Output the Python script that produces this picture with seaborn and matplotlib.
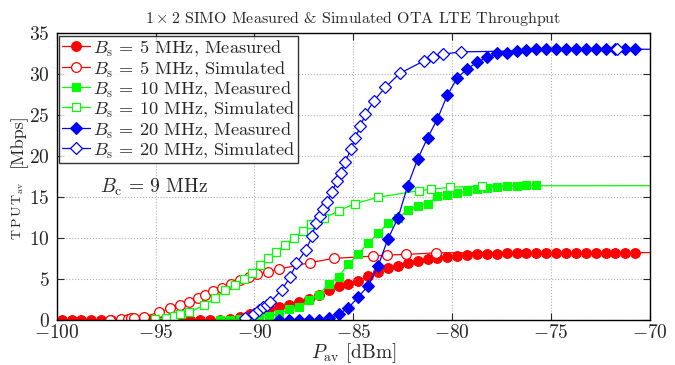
import matplotlib
matplotlib.use("Agg")
import matplotlib.pyplot as plt
import seaborn as sns
import pandas as pd

# measured curves (0.5 dBm steps)
x_meas_5 = [-99.75, -99.25, -98.75, -98.25, -97.75, -97.25, -96.75, -96.25, -95.75, -95.25,
            -94.75, -94.25, -93.75, -93.25, -92.75, -92.25, -91.75, -91.25, -90.75, -90.25,
            -89.75, -89.25, -88.75, -88.25, -87.75, -87.25, -86.75, -86.25, -85.75, -85.25,
            -84.75, -84.25, -83.75, -83.25, -82.75, -82.25, -81.75, -81.25, -80.75, -80.25,
            -79.75, -79.25, -78.75, -78.25, -77.75, -77.25, -76.75, -76.25, -75.75, -75.25,
            -74.75, -74.25, -73.75, -73.25, -72.75, -72.25, -71.75, -71.25, -70.75]
y_meas_5 = [0, 0, 0, 0, 0, 0, 0, 0, 0, 0,
            0, 0, 0, 0, 0, 0, 0.05, 0.15, 0.35, 0.7,
            0.95, 1.3, 1.6, 1.9, 2.2, 2.6, 3.1, 3.7, 4.1, 4.45,
            4.8, 5.35, 5.85, 6.3, 6.6, 6.9, 7.2, 7.4, 7.6, 7.73,
            7.8, 7.89, 8.0, 8.05, 8.1, 8.13, 8.15, 8.17, 8.18, 8.2,
            8.2, 8.2, 8.2, 8.2, 8.2, 8.2, 8.2, 8.2, 8.2]

x_meas_10 = [-91.75, -91.25, -90.75, -90.25, -89.75, -89.25, -88.75, -88.25, -87.75, -87.25,
             -86.75, -86.25, -85.75, -85.25, -84.75, -84.25, -83.75, -83.25, -82.75, -82.25,
             -81.75, -81.25, -80.75, -80.25, -79.75, -79.25, -78.75, -78.25, -77.75, -77.25,
             -76.75, -76.25, -75.75]
y_meas_10 = [0.05, 0.05, 0.08, 0.2, 0.33, 0.53, 0.8, 1.3, 1.6, 2.5,
             3.1, 4.4, 5.3, 6.8, 8.1, 9.35, 10.6, 11.8, 12.4, 13.4,
             13.9, 14.2, 15.1, 15.25, 15.45, 15.75, 15.95, 16.15, 16.2, 16.3,
             16.35, 16.42, 16.42]

x_meas_20 = [-88.75, -88.25, -87.75, -87.25, -86.75, -86.25, -85.75, -85.25, -84.75, -84.25,
             -83.75, -83.25, -82.75, -82.25, -81.75, -81.25, -80.75, -80.25, -79.75, -79.25,
             -78.75, -78.25, -77.75, -77.25, -76.75, -76.25, -75.75, -75.25, -74.75, -74.25,
             -73.75, -73.25, -72.75, -72.25, -71.75, -71.25, -70.75]
y_meas_20 = [0, 0, 0, 0, 0.05, 0.25, 0.7, 1.5, 2.8, 4.2,
             6.6, 9.9, 12.4, 16.4, 19.6, 22.2, 24.5, 27.4, 29.5, 30.6,
             31.4, 32.0, 32.5, 32.6, 32.8, 32.9, 33.0, 33.0, 33.0, 33.0,
             33.0, 33.0, 33.0, 33.0, 33.0, 33.0, 33.0]

# simulated curves
x_sim_5 = [-97.3, -96.75, -96.4, -96.25, -96.1, -95.6, -94.85, -94.25, -93.75, -93.3,
           -92.85, -92.5, -92.1, -91.65, -91.2, -90.75, -90.3, -89.85, -89.3, -88.75,
           -87.2, -86.0, -84.0, -83.3, -82.35, -80.8, -60.0]
y_sim_5 = [0, 0.1, 0.15, 0.2, 0.2, 0.4, 0.93, 1.42, 1.83, 2.24,
           2.64, 3.1, 3.58, 3.86, 4.39, 4.88, 5.2, 5.57, 5.9, 6.22,
           7.0, 7.52, 7.8, 7.93, 8.0, 8.2, 8.25]

x_sim_10 = [-95.05, -94.45, -94.05, -93.75, -93.3, -92.56, -92.0, -91.5, -91.0, -90.55,
            -90.15, -89.73, -89.31, -88.89, -88.47, -88.0, -87.55, -87.12, -86.5, -85.75,
            -84.93, -83.75, -81.7, -81.05, -80.12, -78.5, -60.0]
y_sim_10 = [0.08, 0.28, 0.49, 0.69, 0.93, 1.83, 2.64, 3.66, 4.27, 4.96,
            5.77, 6.7, 7.52, 8.33, 9.15, 9.96, 10.9, 11.65, 12.4, 13.3,
            14.2, 14.96, 15.77, 15.94, 16.18, 16.36, 16.4]

x_sim_20 = [-90.5, -90.04, -89.77, -89.56, -89.39, -89.19, -88.63, -88.21, -87.88, -87.4,
            -87.08, -86.9, -86.7, -86.53, -86.33, -86.06, -85.85, -85.65, -85.4, -85.13,
            -84.9, -84.65, -84.39, -83.95, -83.38, -82.65, -81.42, -80.96, -80.46, -79.58,
            -71.66, -60.0]
y_sim_20 = [0.25, 0.73, 1.22, 1.55, 1.83, 2.24, 3.66, 5.2, 6.91, 8.54,
            10.24, 11.8, 12.7, 13.5, 14.4, 15.65, 16.9, 17.9, 19.3, 20.8,
            22.2, 23.6, 25.1, 26.75, 28.37, 30.07, 31.6, 32.0, 32.4, 32.68,
            33.0, 33.0]

bandwidths = ['5', '10', '20']
colors = {'5': '#ff0000', '10': '#00ff00', '20': '#0000ff'}
markers = {'5': 'o', '10': 's', '20': 'D'}
msizes = {'5': 7, '10': 6, '20': 6.5}

measured = {'5': (x_meas_5, y_meas_5), '10': (x_meas_10, y_meas_10), '20': (x_meas_20, y_meas_20)}
simulated = {'5': (x_sim_5, y_sim_5), '10': (x_sim_10, y_sim_10), '20': (x_sim_20, y_sim_20)}

sns.set_style('ticks')
plt.rcParams['font.family'] = 'serif'
plt.rcParams['font.serif'] = ['cmr10', 'DejaVu Serif']
plt.rcParams['mathtext.fontset'] = 'cm'
plt.rcParams['axes.formatter.use_mathtext'] = True
plt.rcParams['axes.unicode_minus'] = True

fig = plt.figure(figsize=(6.75, 3.65), dpi=100)
ax = fig.add_axes([0.084, 0.123, 0.879, 0.787])

for bw in bandwidths:
    c = colors[bw]
    xm, ym = measured[bw]
    df_m = pd.DataFrame({'P': xm, 'T': ym})
    sns.lineplot(data=df_m, x='P', y='T', ax=ax, estimator=None, sort=False,
                 color=c, linewidth=0.9, marker=markers[bw], markersize=msizes[bw],
                 markerfacecolor=c, markeredgecolor=c, markeredgewidth=0.8,
                 label=r'$B_{\rm s}\,=\,%s$ MHz, Measured' % bw)
    xs, ys = simulated[bw]
    df_s = pd.DataFrame({'P': xs, 'T': ys})
    sns.lineplot(data=df_s, x='P', y='T', ax=ax, estimator=None, sort=False,
                 color=c, linewidth=0.9, marker=markers[bw], markersize=msizes[bw],
                 markerfacecolor='white', markeredgecolor=c, markeredgewidth=0.9,
                 label=r'$B_{\rm s}\,=\,%s$ MHz, Simulated' % bw)

ax.set_xlim(-100, -70)
ax.set_ylim(0, 35)
ax.set_xticks(range(-100, -69, 5))
ax.set_yticks(range(0, 36, 5))
ax.grid(True, linestyle=':', color='#b0b0b0', linewidth=0.8)
ax.tick_params(direction='in', top=True, right=True, labelsize=14, length=5, width=0.8)
ax.tick_params(axis='x', pad=3)
ax.tick_params(axis='y', pad=5)
for s in ax.spines.values():
    s.set_linewidth(1.0)
    s.set_color('black')

ax.set_xlabel(r'$P_{\rm av}$ [dBm]', fontsize=14, labelpad=-1)
ax.set_ylabel('')
fig.text(18 / 675, 1 - 240 / 365, r'$\mathrm{T\,P\,U\,T}_{\mathrm{av}}$', rotation=90,
         ha='center', va='bottom', fontsize=10)
fig.text(18 / 675, 1 - 167 / 365, '[Mbps]', rotation=90, ha='center', va='bottom', fontsize=13)

ax.set_title(r'$1\times2$ SIMO Measured & Simulated OTA LTE Throughput', fontsize=11.5, pad=7)
ax.text(-97.8, 16.2, r'$B_{\rm c}\,=\,9$ MHz', fontsize=14, va='center')

leg = ax.legend(loc='upper left', fontsize=13.2, frameon=True, fancybox=False,
                borderaxespad=0.15, handlelength=1.5, handletextpad=0.2,
                labelspacing=0.02, borderpad=0.15)
leg.get_frame().set_edgecolor('black')
leg.get_frame().set_linewidth(1.0)

fig.savefig('out.png', dpi=100)
